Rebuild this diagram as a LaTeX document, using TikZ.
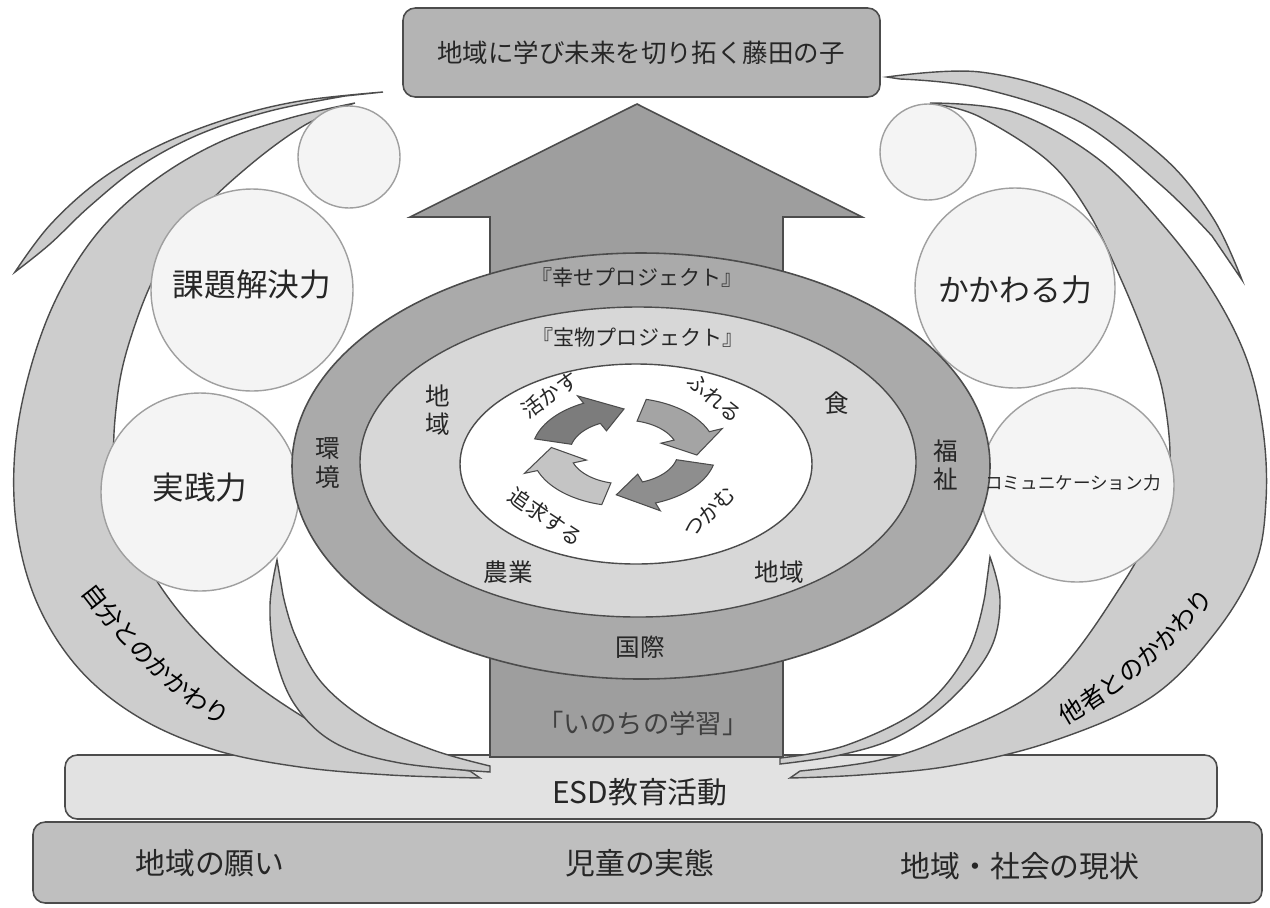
\documentclass[tikz,border=0pt]{standalone}
\usepackage{fontspec}
\setmainfont{Noto Sans CJK JP}
\usetikzlibrary{decorations.text}
\definecolor{boxgray}{HTML}{B4B4B4}
\definecolor{arrowgray}{HTML}{9E9E9E}
\definecolor{ringgray}{HTML}{AAAAAA}
\definecolor{midgray}{HTML}{D7D7D7}
\definecolor{bandgray}{HTML}{CDCDCD}
\definecolor{circfill}{HTML}{F4F4F4}
\definecolor{esdgray}{HTML}{E2E2E2}
\definecolor{basegray}{HTML}{BFBFBF}
\definecolor{edge}{HTML}{4C4C4C}
\definecolor{cycA}{HTML}{7C7C7C}
\definecolor{cycB}{HTML}{A4A4A4}
\definecolor{cycC}{HTML}{8E8E8E}
\definecolor{cycD}{HTML}{C4C4C4}
\tikzset{
  boxshape/.style={draw=edge, line width=0.9pt, rounded corners=7pt},
  band/.style={fill=bandgray, draw=edge, line width=0.8pt},
  ball/.style={fill=circfill, draw=gray!75, line width=0.8pt},
  lbl/.style={font=\fontsize{14}{16}\selectfont, text=black!85, inner sep=0pt},
  vlbl/.style={lbl, align=center},
  cyc/.style={draw=edge, line width=0.6pt},
  cyclbl/.style={font=\fontsize{12}{14}\selectfont, text=black!85, inner sep=0pt},
  bigtxt/.style={font=\fontsize{17}{20}\selectfont, text=black!85, inner sep=0pt},
}
\newcommand\cycarrow[3]{%
  \pgfmathsetmacro\hb{#2+26}%
  \filldraw[cyc, fill=#3] plot[domain=#1:\hb, samples=24] (\x:92) -- (\hb:106)
    -- (#2:73) -- (\hb:40) -- plot[domain=\hb:#1, samples=24] (\x:54) -- cycle;
}
\begin{document}
\begin{tikzpicture}[x=0.02cm, y=-0.02cm]
\useasboundingbox (0,0) rectangle (1270,907);
\fill[white] (0,0) rectangle (1270,907);

% base bars
\filldraw[boxshape, fill=basegray] (33,822) rectangle (1262,903);
\filldraw[boxshape, fill=esdgray] (65,755) rectangle (1217,819);

% big arrow
\filldraw[fill=arrowgray, draw=edge, line width=0.9pt]
  (490,757) -- (490,217) -- (410,217) -- (637,104) -- (862,217) -- (783,217) -- (783,757) -- cycle;

% top box
\filldraw[boxshape, fill=boxgray] (403,8) rectangle (880,97);

% left thin crescent
\filldraw[band] plot[smooth, tension=0.6] coordinates {(15,272) (50,225) (100,180) (160,145) (230,118) (300,101) (383,92)}
  -- plot[smooth, tension=0.6] coordinates {(345,96) (270,111) (200,134) (140,166) (90,206) (50,244) (15,272)} -- cycle;
% left big band
\filldraw[band] plot[smooth, tension=0.6] coordinates {(355,103) (290,118) (220,142) (155,180) (100,230) (58,295) (30,370) (15,450) (17,530) (38,605) (80,670) (140,718) (215,750) (300,767) (390,775) (480,778)}
  -- plot[smooth, tension=0.6] coordinates {(470,771) (420,762) (350,742) (280,702) (220,655) (170,600) (135,540) (115,470) (117,400) (130,340) (158,270) (200,212) (250,165) (300,128) (340,108)} -- cycle;
% left horn
\filldraw[band] plot[smooth, tension=0.6] coordinates {(277,560) (270,605) (275,655) (295,705) (335,743) (400,763) (490,772)}
  -- plot[smooth, tension=0.6] coordinates {(490,766) (433,750) (370,722) (322,683) (295,635) (283,595)} -- cycle;

% right thin crescent
\filldraw[band] plot[smooth, tension=0.6] coordinates {(887,77) (980,72) (1080,100) (1163,157) (1213,218) (1242,280)}
  -- plot[smooth, tension=0.6] coordinates {(1212,236) (1162,186) (1080,122) (980,88) (900,79)} -- cycle;
% right big band
\filldraw[band] plot[smooth, tension=0.6] coordinates {(930,103) (1013,112) (1097,158) (1163,225) (1213,292) (1247,360) (1263,430) (1266,500) (1255,565) (1215,633) (1150,698) (1050,742) (950,766) (860,775) (790,778)}
  -- plot[smooth, tension=0.6] coordinates {(800,771) (880,760) (947,737) (1047,683) (1123,583) (1160,510) (1170,460) (1163,393) (1147,343) (1120,277) (1087,210) (1047,160) (980,117) (940,105)} -- cycle;
% right horn
\filldraw[band] plot[smooth, tension=0.6] coordinates {(990,557) (1000,600) (990,650) (950,700) (897,737) (840,755) (780,764)}
  -- plot[smooth, tension=0.6] coordinates {(780,758) (847,745) (923,707) (968,652) (985,595)} -- cycle;

% circles
\filldraw[ball] (349,157) circle [radius=51];
\filldraw[ball] (252,290) circle [radius=101];
\filldraw[ball] (200,492) circle [radius=99];
\filldraw[ball] (928,152) circle [radius=48];
\filldraw[ball] (1015,288) circle [radius=100];
\filldraw[ball] (1077,485) circle [radius=97];

% ellipses
\filldraw[fill=ringgray, draw=edge, line width=0.9pt] (641,466) ellipse [x radius=349, y radius=213];
\filldraw[fill=midgray, draw=edge, line width=0.8pt] (638,462) ellipse [x radius=278, y radius=155];
\filldraw[fill=white, draw=edge, line width=0.8pt] (636,464) ellipse [x radius=176, y radius=100];

% cycle arrows
\begin{scope}[shift={(624,452)}, x=0.02cm, y=0.0118cm]
  \cycarrow{166}{90}{cycA}
  \cycarrow{76}{-4}{cycB}
  \cycarrow{-14}{-96}{cycC}
  \cycarrow{-104}{-186}{cycD}
\end{scope}

% texts
\node[lbl, font=\fontsize{14.5}{16}\selectfont] (goal) at (641,53) {地域に学び未来を切り拓く藤田の子};
\node[lbl, font=\fontsize{18}{20}\selectfont] (kadai) at (252,285) {課題解決力};
\node[lbl, font=\fontsize{18}{20}\selectfont] (jissen) at (200,487) {実践力};
\node[lbl, font=\fontsize{17.5}{20}\selectfont] (kakawaru) at (1015,290) {かかわる力};
\node[lbl, font=\fontsize{10}{12}\selectfont] (comm) at (1073,483) {コミュニケーション力};

\node[lbl, font=\fontsize{12}{14}\selectfont] (shiawase) at (637,277) {『幸せプロジェクト』};
\node[lbl, font=\fontsize{12}{14}\selectfont] (takara) at (638,337) {『宝物プロジェクト』};
\node[vlbl] (kankyo) at (328,463) {環\\境};
\node[vlbl] (fukushi) at (946,465) {福\\祉};
\node[vlbl] (chiiki1) at (438,410) {地\\域};
\node[lbl] (shoku) at (837,403) {食};
\node[lbl] (nogyo) at (508,572) {農業};
\node[lbl] (chiiki2) at (779,572) {地域};
\node[lbl] (kokusai) at (640,647) {国際};
\node[lbl, font=\fontsize{15}{17}\selectfont, text=black!75] (inochi) at (643,723) {「いのちの学習」};

\node[cyclbl, rotate=35] (ikasu) at (550,395) {活かす};
\node[cyclbl, rotate=-40] (fureru) at (715,398) {ふれる};
\node[cyclbl, rotate=45] (tsukamu) at (709,512) {つかむ};
\node[cyclbl, rotate=-35] (tsuikyu) at (546,517) {追求する};

\node[bigtxt] (esd) at (640,792) {ESD教育活動};
\node[bigtxt] (negai) at (210,863) {地域の願い};
\node[bigtxt] (jittai) at (640,863) {児童の実態};
\node[bigtxt] (genjo) at (1020,866) {地域・社会の現状};

\path[decorate, decoration={text along path, text align=center,
  text={|\fontsize{14}{16}\selectfont|自分とのかかわり}}]
  (62,568) .. controls (105,625) and (160,700) .. (250,740);
\path[decorate, decoration={text along path, text align=center,
  text={|\fontsize{14}{16}\selectfont|他者とのかかわり}}]
  (1030,742) .. controls (1090,718) and (1165,665) .. (1240,568);
\end{tikzpicture}
\end{document}
